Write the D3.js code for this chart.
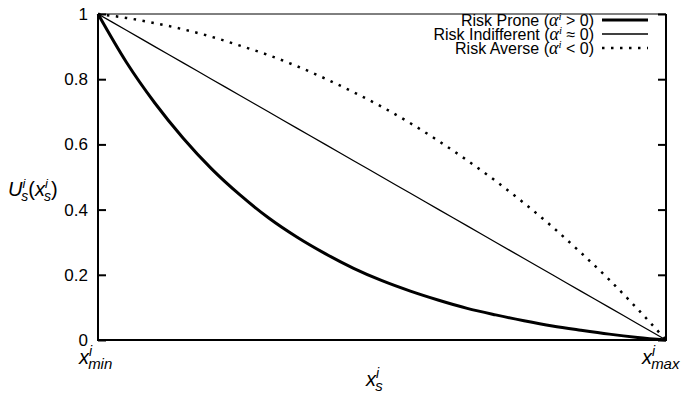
<!DOCTYPE html>
<html>
<head>
<meta charset="utf-8">
<script src="https://cdn.jsdelivr.net/npm/d3@7"></script>
<style>
  body { margin: 0; background: #fff; }
  svg { display: block; }
  text { font-family: "Liberation Sans", Arial, sans-serif; fill: #000; }
</style>
</head>
<body>
<div id="chart"></div>
<script>
// x positions as fraction of [x_min, x_max]
const xSteps = [0, 0.05, 0.1, 0.15, 0.2, 0.25, 0.3, 0.35, 0.4, 0.45, 0.5,
                0.55, 0.6, 0.65, 0.7, 0.75, 0.8, 0.85, 0.9, 0.95, 1];
// values
const proneVals = [1, 0.852, 0.727, 0.619, 0.525, 0.445, 0.375, 0.316, 0.265, 0.220, 0.182,
                   0.150, 0.122, 0.097, 0.077, 0.059, 0.043, 0.030, 0.018, 0.008, 0];
const indifferentVals = [1, 0.95, 0.9, 0.85, 0.8, 0.75, 0.7, 0.65, 0.6, 0.55, 0.5,
                         0.45, 0.4, 0.35, 0.3, 0.25, 0.2, 0.15, 0.1, 0.05, 0];
const averseVals = [1, 0.988, 0.972, 0.953, 0.930, 0.903, 0.874, 0.840, 0.802, 0.760, 0.715,
                    0.665, 0.610, 0.551, 0.488, 0.420, 0.347, 0.268, 0.185, 0.095, 0];
const yTicks = [0, 0.2, 0.4, 0.6, 0.8, 1];
const seriesNames = ['Risk Prone', 'Risk Indifferent', 'Risk Averse'];
const seriesSigns = ['>', '\u2248', '<'];

const W = 686, H = 396;
const m = { left: 98, top: 14, right: 20, bottom: 56 };
const w = W - m.left - m.right, h = H - m.top - m.bottom;

const svg = d3.select('#chart').append('svg')
    .attr('width', W).attr('height', H);

const x = d3.scaleLinear().domain([0, 1]).range([m.left, m.left + w]);
const y = d3.scaleLinear().domain([0, 1]).range([m.top + h, m.top]);

// y axis labels + inward ticks on both sides
const yAxis = d3.axisLeft(y).tickValues(yTicks).tickSize(-8)
    .tickPadding(10).tickFormat(d3.format('~g'));
const gy = svg.append('g').attr('transform', `translate(${m.left},0)`).call(yAxis);
gy.select('.domain').remove();
gy.selectAll('.tick line').attr('stroke', '#000').attr('stroke-width', 2);
gy.selectAll('.tick text').style('font-size', '17px')
    .style('font-family', '"Liberation Sans", Arial, sans-serif');

const gyr = svg.append('g').attr('transform', `translate(${m.left + w},0)`)
    .call(d3.axisRight(y).tickValues(yTicks).tickSize(-8).tickFormat(''));
gyr.select('.domain').remove();
gyr.selectAll('.tick line').attr('stroke', '#000').attr('stroke-width', 2);

// frame
svg.append('line').attr('x1', x(0)).attr('x2', x(1)).attr('y1', y(1)).attr('y2', y(1))
    .attr('stroke', '#000').attr('stroke-width', 1);
svg.append('path')
    .attr('d', `M${x(0)},${y(1)}V${y(0)}H${x(1)}V${y(1)}`)
    .attr('fill', 'none').attr('stroke', '#000').attr('stroke-width', 2);

// curves
const line = d3.line().x((d, i) => x(xSteps[i])).y(d => y(d)).curve(d3.curveMonotoneX);
const styles = [
  { width: 3, dash: null },
  { width: 1.3, dash: null },
  { width: 2.5, dash: '2.5,6.5' }
];
[proneVals, indifferentVals, averseVals].forEach((vals, k) => {
  svg.append('path').datum(vals)
      .attr('d', line)
      .attr('fill', 'none')
      .attr('stroke', '#000')
      .attr('stroke-width', styles[k].width)
      .attr('stroke-dasharray', styles[k].dash);
});

// legend
const lg = svg.append('g').attr('class', 'legend');
seriesNames.forEach((name, k) => {
  const ly = 20 + k * 14;
  const t = lg.append('text').attr('x', 594).attr('y', ly + 6)
      .attr('text-anchor', 'end').style('font-size', '16px');
  t.append('tspan').text(name + ' (');
  t.append('tspan').text('\u03b1').style('font-family', '"Liberation Serif", serif')
      .style('font-style', 'italic').style('font-size', '18px');
  t.append('tspan').text('i').attr('dy', -6).style('font-size', '11px')
      .style('font-family', '"Liberation Serif", serif').style('font-style', 'italic');
  t.append('tspan').text(' ' + seriesSigns[k] + ' 0)').attr('dy', 6);
  lg.append('line').attr('x1', 602).attr('x2', 648).attr('y1', ly).attr('y2', ly)
      .attr('stroke', '#000').attr('stroke-width', styles[k].width)
      .attr('stroke-dasharray', styles[k].dash);
});

// x tick labels: x^i_min, x^i_max
function xVar(g, sub, sx, by, size) {
  const t = g.append('text').attr('x', sx).attr('y', by)
      .style('font-style', 'italic').style('font-size', size + 'px');
  t.append('tspan').text('x');
  t.append('tspan').text('i').attr('dy', -size * 0.42).style('font-size', (size * 0.7) + 'px');
  t.append('tspan').text(sub).attr('dx', -size * 0.2).attr('dy', size * 0.68)
      .style('font-size', (size * 0.75) + 'px');
  return t;
}
xVar(svg, 'min', 79, 364, 20);
xVar(svg, 'max', 642, 364, 20);

// x axis title
xVar(svg, 's', 366, 386, 20);

// y axis title U^i_s(x^i_s)
const yt = svg.append('text').attr('x', 8).attr('y', 196)
    .style('font-style', 'italic').style('font-size', '20px');
yt.append('tspan').text('U');
yt.append('tspan').text('i').attr('dy', -8).style('font-size', '13px');
yt.append('tspan').text('s').attr('dx', -4).attr('dy', 13).style('font-size', '14px');
yt.append('tspan').text('(').attr('dy', -5).style('font-style', 'normal');
yt.append('tspan').text('x');
yt.append('tspan').text('i').attr('dy', -8).style('font-size', '13px');
yt.append('tspan').text('s').attr('dx', -4).attr('dy', 13).style('font-size', '14px');
yt.append('tspan').text(')').attr('dy', -5).style('font-style', 'normal');
</script>
</body>
</html>
